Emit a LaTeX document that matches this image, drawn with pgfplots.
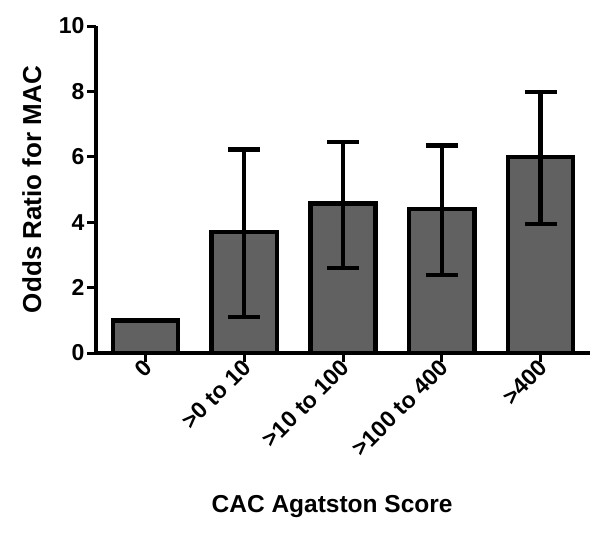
\documentclass[border=0pt]{standalone}
\usepackage{fontspec}
\setmainfont{Liberation Sans}
\usepackage{pgfplots}
\pgfplotsset{compat=1.18}

\pgfplotstableread{
x y ep em
0 1.00 0.00 0.00
1 3.70 2.53 2.60
2 4.57 1.88 1.97
3 4.40 1.95 2.02
4 6.00 1.98 2.06
}\cacdata

\begin{document}
\begin{tikzpicture}
\begin{axis}[
    scale only axis,
    width=494pt,
    height=327pt,
    axis lines=left,
    axis line style={line width=4pt, -},
    xmin=-0.5, xmax=4.5,
    ymin=0, ymax=10,
    ytick={0,2,4,6,8,10},
    xtick={0,1,2,3,4},
    xticklabels={0,{>0 to 10},{>10 to 100},{>100 to 400},{>400}},
    tick align=outside,
    major tick length=9pt,
    tick style={line width=3pt, black},
    /pgf/number format/assume math mode=true,
    tick label style={font=\bfseries\fontsize{23}{26}\selectfont},
    yticklabel style={xshift=1pt},
    x tick label style={rotate=45, anchor=east, xshift=4pt, yshift=-3pt},
    ylabel={Odds Ratio for MAC},
    xlabel={CAC Agatston Score},
    ylabel style={font=\bfseries\fontsize{26}{30}\selectfont, at={(axis description cs:-0.13,0.5)}, anchor=center},
    xlabel style={font=\bfseries\fontsize{24.5}{28}\selectfont, at={(axis description cs:0.478,-0.471)}, anchor=center},
    clip=false,
]
\addplot[
    ybar,
    bar width=0.66,
    fill=black!62,
    draw=black,
    line width=4.5pt,
    error bars/.cd,
        y dir=both,
        y explicit,
        error bar style={line width=4.5pt, black},
        error mark options={line width=4.5pt, black, mark size=16pt, rotate=90},
] table [x=x, y=y, y error plus=ep, y error minus=em] {\cacdata};
\end{axis}
\pgfresetboundingbox
\path ([xshift=-96pt,yshift=-180pt]current axis.south west) rectangle ([xshift=10pt,yshift=26pt]current axis.north east);
\end{tikzpicture}
\end{document}
